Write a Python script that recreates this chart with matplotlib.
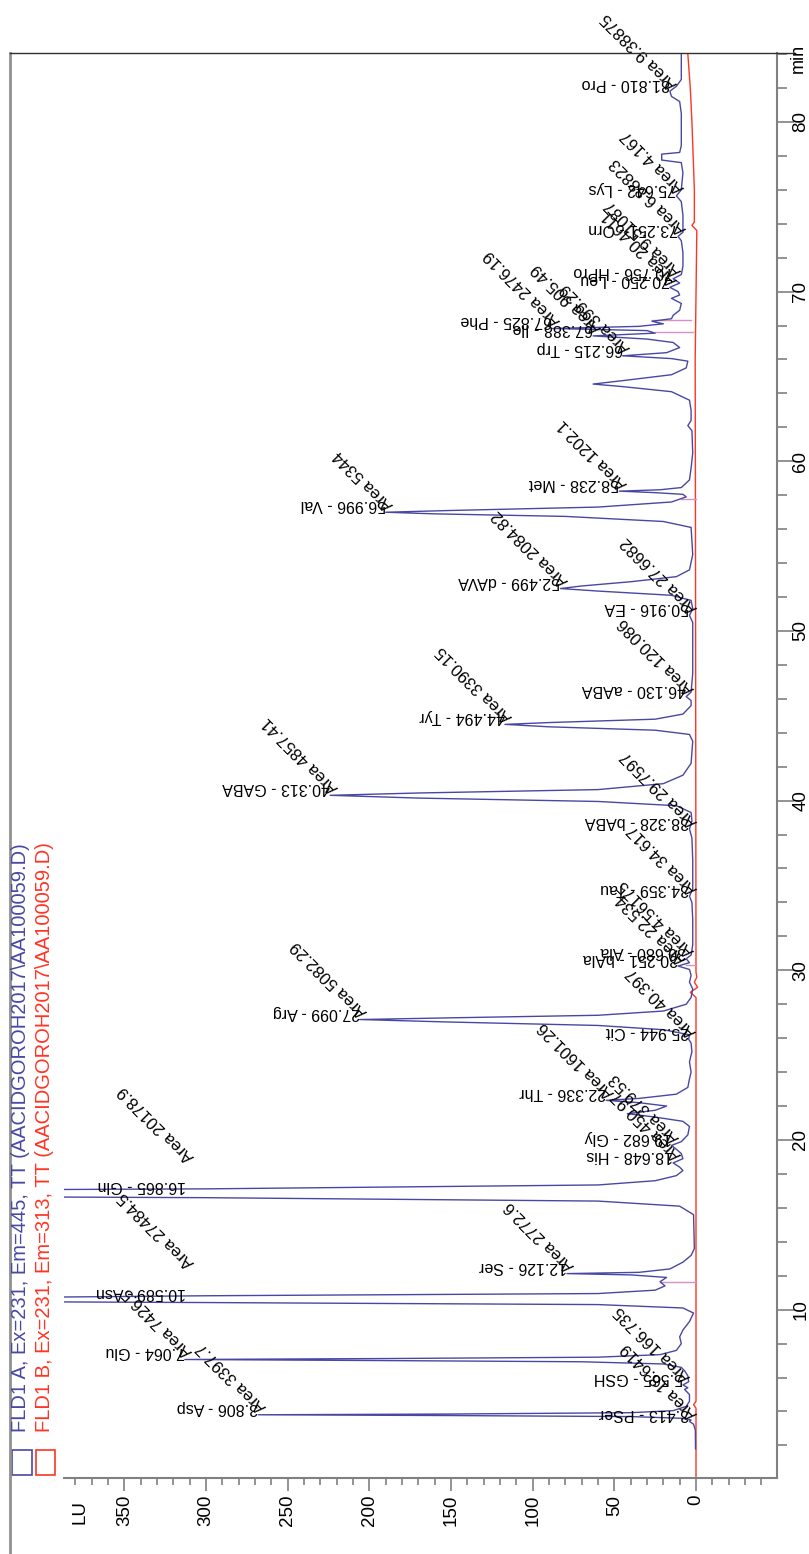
import matplotlib
matplotlib.use('Agg')
import matplotlib.pyplot as plt
from matplotlib.patches import Rectangle
from matplotlib.lines import Line2D

plt.rcParams['font.family'] = ['Liberation Sans', 'DejaVu Sans']

# FLD1 A trace (retention time in min, signal in LU)
blue_min = [1.8, 2.9, 3.25, 3.413, 3.5,
            3.6, 3.7, 3.76, 3.806, 3.85, 3.93, 4.05, 4.3, 4.6,
            5.0, 5.3, 5.4, 5.565, 5.75, 6.1, 6.4, 6.6,
            6.8, 6.93, 7.0, 7.064, 7.12, 7.2, 7.35, 7.6, 8.0, 8.4, 8.8, 9.3, 9.8,
            10.1, 10.3, 10.42, 10.47, 10.72, 10.82, 10.95, 11.15, 11.4, 11.65, 11.9, 12.05, 12.126, 12.2, 12.4, 12.8, 13.2, 13.6,
            15.6, 16.1, 16.4, 16.6, 16.65, 17.07, 17.12, 17.35, 17.6, 17.9, 18.2,
            18.4, 18.648, 18.9, 19.2, 19.45, 19.682, 19.9, 20.3, 20.8,
            21.1, 21.35, 21.55, 21.75, 22.0, 22.2, 22.336, 22.45, 22.7, 23.1, 23.6, 24.0, 24.6, 25.2,
            25.7, 25.944, 26.2, 26.5, 26.75, 26.95, 27.099, 27.2, 27.35, 27.6, 28.0, 28.4,
            28.9, 29.3, 29.7, 30.05, 30.251, 30.45, 30.68, 30.9, 31.5,
            33.0, 34.0, 34.359, 34.8, 36.5, 37.8, 38.328, 38.8,
            39.3, 39.7, 39.95, 40.15, 40.313, 40.45, 40.65, 41.0, 41.5, 42.2, 43.5,
            43.9, 44.15, 44.35, 44.494, 44.6, 44.8, 45.1, 45.6,
            45.9, 46.13, 46.4, 47.5, 50.5, 50.916, 51.3,
            51.8, 52.1, 52.35, 52.499, 52.65, 52.9, 53.2, 53.6, 54.5,
            56.1, 56.45, 56.75, 56.9, 56.996, 57.1, 57.3, 57.6, 57.9,
            58.05, 58.15, 58.238, 58.32, 58.45, 58.9, 59.6, 60.5, 61.8, 62.1, 62.4, 63.0,
            63.6, 64.1, 64.4, 64.55, 64.75, 65.1, 65.5, 65.9,
            66.05, 66.215, 66.4, 66.7, 67.0, 67.2, 67.388, 67.55, 67.7, 67.825, 67.95, 68.1, 68.25, 68.4,
            68.6, 68.9, 69.3, 69.6, 69.8, 70.0, 70.25, 70.5, 70.756, 71.0, 71.5, 72.3, 73.0, 73.251, 73.5,
            74.5, 75.3, 75.642, 76.0, 77.0, 77.6, 77.75, 78.1, 78.2, 78.6, 80.5, 81.2, 81.5, 81.81, 82.1, 82.5, 84.0]
blue_lu = [0.3, 0.4, 1.5, 4.0, 3.0,
           9, 40, 150, 268, 150, 40, 14, 6, 4,
           4, 7, 5, 8, 4.5, 5, 7, 9,
           20, 70, 190, 313, 190, 60, 22, 12, 9, 10, 8, 4, 1.5,
           8, 60, 300, 420, 420, 300, 60, 25, 19, 22, 18, 40, 79, 35, 16, 8, 3, 1,
           1.5, 10, 60, 300, 420, 420, 300, 60, 25, 12, 8,
           10, 14, 8, 9, 12, 15, 9, 5, 4,
           8, 25, 42, 25, 18, 35, 55, 35, 12, 5, 4, 3, 4, 2.5,
           3, 4.5, 4, 20, 60, 150, 206, 150, 60, 20, 6, 3,
           2, 4, 3, 4, 11, 4, 6, 3, 2,
           2, 2.5, 4, 2, 2, 2.5, 4, 2.5,
           3, 12, 60, 170, 224, 170, 60, 20, 8, 3, 2,
           4, 25, 90, 117, 90, 25, 8, 3,
           3, 6, 3, 2, 2, 4, 2,
           3, 15, 60, 83, 70, 40, 12, 4, 2,
           3, 20, 80, 160, 190, 150, 60, 15, 6,
           8, 25, 47, 22, 9, 4, 3, 2, 2.5, 5, 3, 3,
           4, 15, 45, 63, 45, 15, 6, 5,
           15, 45, 18, 10, 14, 30, 63, 25, 30, 88, 35, 20, 27, 15,
           14, 10, 9, 15, 10, 11, 16, 10, 14, 9, 8, 8, 9, 11, 8,
           8, 9, 12, 9, 8, 9, 21, 21, 10, 9, 9, 10, 15, 16, 12, 9, 9]

# FLD1 B trace
red_min = [0.1, 4.2, 4.4, 4.6, 28.4, 28.7, 29.0, 29.3, 29.6, 29.9, 55.0, 66.0, 73.6, 73.9, 74.1, 76.0, 80.0, 82.0, 84.0]
red_lu = [0.0, 0.0, 1.5, 0.0, 0.0, 3.5, -1.0, 1.0, -0.5, 0.0, 0.3, 0.5, -0.5, 2.5, 1.0, 1.0, 2.5, 3.5, 5.0]

# integration marks (time, LU from, LU to)
mark_min = [11.65, 30.3, 57.8, 67.6, 68.3]
mark_lu_from = [0, 0, 0, 2, 3]
mark_lu_to = [22, 6, 9, 25, 27]

# peak annotations
peak_rt = [3.413, 3.806, 5.565, 7.064, 10.589, 12.126, 16.865, 18.648, 19.682, 22.336,
           25.944, 27.099, 30.251, 30.680, 34.359, 38.328, 40.313, 44.494, 46.130, 50.916,
           52.499, 56.996, 58.238, 66.215, 67.388, 67.825, 70.250, 70.756, 73.251, 75.642, 81.810]
peak_name = ['PSer', 'Asp', 'GSH', 'Glu', 'Asn', 'Ser', 'Gln', 'His', 'Gly', 'Thr',
             'Cit', 'Arg', 'bAla', 'Ala', 'Tau', 'bABA', 'GABA', 'Tyr', 'aABA', 'EA',
             'dAVA', 'Val', 'Met', 'Trp', 'Ile', 'Phe', 'Leu', 'HPro', 'Orn', 'Lys', 'Pro']
peak_label_lu = [4, 268, 8, 313, 312, 79, 312, 14, 15, 55,
                 4.5, 206, 11, 6, 4, 4, 224, 117, 6, 4,
                 83, 190, 47, 45, 63, 88, 16, 14, 11, 12, 16]
peak_area = ['18.6419', '3397.7', '166.735', '7426.5', '27484.5', '2772.6', '20178.9', '450.97', '379.53', '1601.26',
             '40.397', '5082.29', '22.534', '4.56175', '34.617', '29.7597', '4857.41', '3390.15', '120.086', '27.6682',
             '2084.82', '5344', '1202.1', '399.29', '905.49', '2476.19', '20.4611', '9.51087', '6.88823', '4.167', '9.38875']
off_scale = ['Asn', 'Gln']

blue = '#4848a4'
red = '#ff3424'
grey = '#808080'

W, H = 809, 1554
fig = plt.figure(figsize=(W / 100, H / 100), dpi=100)


def fx(px):
    return px / W


def fy(py):
    return 1 - py / H


ax = fig.add_axes([fx(64), fy(1478), (777 - 64) / W, (1478 - 53) / H])
ax.plot(red_lu, red_min, color=red, lw=1.0)
for t, a, b in zip(mark_min, mark_lu_from, mark_lu_to):
    ax.plot([a, b], [t, t], color='#d890c8', lw=1.0)
ax.plot(blue_lu, blue_min, color=blue, lw=1.0)
ax.set_xlim(387, -49.6)
ax.set_ylim(0.08, 84.06)

for s in ['left', 'top']:
    ax.spines[s].set_visible(False)
for s in ['right', 'bottom']:
    ax.spines[s].set_color(grey)
    ax.spines[s].set_linewidth(1.5)

ax.yaxis.tick_right()
ax.set_yticks(range(10, 81, 10))
ax.set_yticks([t for t in range(0, 85, 2) if t % 10], minor=True)
ax.set_xticks(range(0, 351, 50))
ax.set_xticks([v for v in range(-40, 381, 10) if v % 50], minor=True)
ax.tick_params(axis='both', which='both', color=grey, width=1.2, labelrotation=90)
ax.tick_params(axis='x', which='major', length=9, pad=3, labelsize=13.5)
ax.tick_params(axis='x', which='minor', length=5)
ax.tick_params(axis='y', which='major', length=12, pad=-1, labelsize=13.5)
ax.tick_params(axis='y', which='minor', length=7)
for lab in ax.get_yticklabels():
    lab.set_va('center')

for rt, name, lu, area in zip(peak_rt, peak_name, peak_label_lu, peak_area):
    ax.text(lu, rt, f'{rt:.3f} - {name}', rotation=180, rotation_mode='anchor',
            ha='left', va='top', fontsize=11.5)
    at = rt + 1.7 if name in off_scale else rt
    ax.text(lu, at, f'Area {area}', rotation=135, rotation_mode='anchor',
            ha='left', va='top', fontsize=12)

# frame lines, axis names, legend
fig.add_artist(Line2D([fx(10), fx(10)], [fy(53), fy(1554)], color='#909090', lw=2))
fig.add_artist(Line2D([fx(10), fx(795)], [fy(53), fy(53)], color='#303030', lw=1))
fig.text(fx(80), fy(1512), 'LU', rotation=90, ha='center', va='center', fontsize=13.5)
fig.text(fx(798), fy(58), 'min', rotation=90, ha='center', va='center', fontsize=13)

fig.add_artist(Rectangle((fx(12), fy(1475)), 20 / W, 25 / H, fill=False, edgecolor=blue, lw=1.2))
fig.add_artist(Rectangle((fx(36), fy(1475)), 19 / W, 25 / H, fill=False, edgecolor=red, lw=1.2))
fig.text(fx(20), fy(1432), 'FLD1 A, Ex=231, Em=445, TT (AACIDGOROH2017\\AA100059.D)',
         rotation=90, rotation_mode='anchor', ha='left', va='center', color=blue, fontsize=14.5)
fig.text(fx(44), fy(1432), 'FLD1 B, Ex=231, Em=313, TT (AACIDGOROH2017\\AA100059.D)',
         rotation=90, rotation_mode='anchor', ha='left', va='center', color=red, fontsize=14.5)

fig.savefig('out.png', dpi=100)
